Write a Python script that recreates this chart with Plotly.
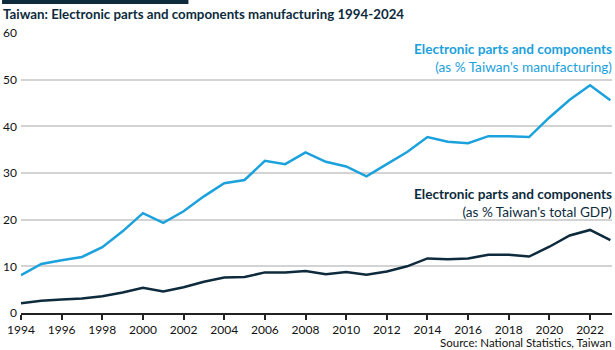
import plotly.graph_objects as go

years = list(range(1994, 2024))
manuf_share = [8.1, 10.5, 11.3, 12.0, 14.1, 17.5, 21.4, 19.3, 21.8, 25.0,
               27.8, 28.5, 32.6, 31.9, 34.4, 32.4, 31.4, 29.3, 31.9, 34.5,
               37.7, 36.7, 36.4, 37.9, 37.9, 37.7, 41.9, 45.7, 48.8, 45.6]
gdp_share = [2.1, 2.6, 2.9, 3.1, 3.6, 4.4, 5.4, 4.6, 5.5, 6.7,
             7.6, 7.7, 8.7, 8.7, 9.0, 8.3, 8.8, 8.2, 8.9, 10.0,
             11.7, 11.5, 11.7, 12.5, 12.5, 12.1, 14.2, 16.6, 17.8, 15.6]
x_ticks = list(range(1994, 2024, 2))
y_ticks = [0, 10, 20, 30, 40, 50, 60]

LIGHT = "#1ba1dc"
DARK = "#0d2b3c"
FONT = "Lato"

PLOT_TOP, PLOT_BOTTOM = 33, 313
PH = PLOT_BOTTOM - PLOT_TOP


def py(pix):
    return (PLOT_BOTTOM - pix) / PH


fig = go.Figure()
fig.add_trace(go.Scatter(x=years, y=manuf_share, mode="lines",
                         line=dict(color=LIGHT, width=2.5), hoverinfo="skip"))
fig.add_trace(go.Scatter(x=years, y=gdp_share, mode="lines",
                         line=dict(color=DARK, width=2.5), hoverinfo="skip"))

fig.update_layout(
    width=615, height=350,
    margin=dict(l=19, r=3, t=PLOT_TOP, b=350 - PLOT_BOTTOM),
    paper_bgcolor="white", plot_bgcolor="white",
    showlegend=False,
    font=dict(family=FONT, size=12, color="#111111"),
    xaxis=dict(range=[1994, 2023.08], tickvals=x_ticks, showgrid=False,
               showline=True, linecolor="#222222", linewidth=1.5,
               ticks="outside", ticklen=5, tickcolor="#222222", tickwidth=1.5,
               tickfont=dict(size=12, color="#111111"), zeroline=False),
    yaxis=dict(range=[0, 60], tickvals=y_ticks, showgrid=True,
               gridcolor="#d3d3d3", gridwidth=1.5, zeroline=False,
               ticks="", tickfont=dict(size=12, color="#111111"),
               ticklabelstandoff=3),
    title=dict(text="<b>Taiwan: Electronic parts and components manufacturing 1994-2024</b>",
               x=0.005, xanchor="left", y=1 - 14 / 350, yanchor="middle",
               font=dict(family=FONT, size=13.3, color=DARK)),
    shapes=[dict(type="rect", xref="paper", yref="paper",
                 x0=-19 / 593, x1=(187 - 19) / 593, y0=py(4), y1=py(-1),
                 fillcolor=DARK, line=dict(width=0))],
)

fig.add_annotation(xref="paper", yref="paper", x=1.003, y=py(58), xanchor="right", yanchor="middle",
                   text="<b>Electronic parts and components</b><br>(as % Taiwan's manufacturing)",
                   showarrow=False, align="right",
                   font=dict(family=FONT, size=13.6, color=LIGHT))
fig.add_annotation(xref="paper", yref="paper", x=1.003, y=py(203), xanchor="right", yanchor="middle",
                   text="<b>Electronic parts and components</b><br>(as % Taiwan's total GDP)",
                   showarrow=False, align="right",
                   font=dict(family=FONT, size=13.6, color=DARK))
fig.add_annotation(xref="paper", yref="paper", x=1.003, y=py(342), xanchor="right", yanchor="middle",
                   text="Source: National Statistics, Taiwan",
                   showarrow=False, align="right",
                   font=dict(family=FONT, size=11.5, color="#111111"))

fig.write_html("out.html")
